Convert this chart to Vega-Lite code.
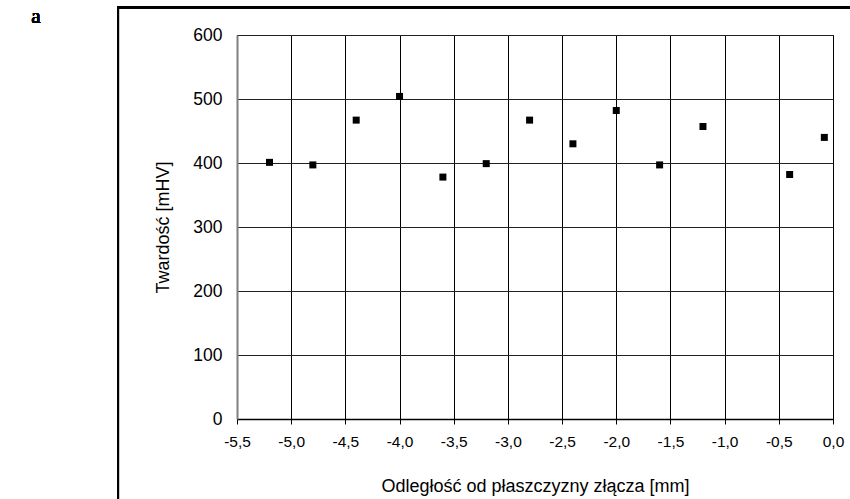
{
  "$schema": "https://vega.github.io/schema/vega-lite/v6.json",
  "width": 596,
  "height": 384,
  "autosize": {"type": "none"},
  "padding": {"left": 237, "top": 35, "right": 17, "bottom": 80},
  "background": "white",
  "config": {
    "locale": {"number": {"decimal": ",", "thousands": " ", "grouping": [3], "currency": ["", ""], "minus": "-"}},
    "view": {"stroke": "#000000", "strokeWidth": 1},
    "font": "Liberation Sans"
  },
  "data": {
    "values": [
      {"x": -5.2, "y": 401},
      {"x": -4.8, "y": 397},
      {"x": -4.4, "y": 467},
      {"x": -4.0, "y": 504},
      {"x": -3.6, "y": 378},
      {"x": -3.2, "y": 399},
      {"x": -2.8, "y": 467},
      {"x": -2.4, "y": 430},
      {"x": -2.0, "y": 482},
      {"x": -1.6, "y": 397},
      {"x": -1.2, "y": 457},
      {"x": -0.4, "y": 382},
      {"x": -0.08, "y": 440}
    ]
  },
  "layer": [
    {
      "mark": {"type": "rect", "fill": null, "stroke": "#000000", "strokeWidth": 2, "clip": false},
      "encoding": {
        "x": {"datum": -6.598, "type": "quantitative"},
        "x2": {"datum": 0.35},
        "y": {"datum": 643.3, "type": "quantitative"},
        "y2": {"datum": -160}
      }
    },
    {
      "mark": {"type": "text", "font": "Liberation Serif", "fontSize": 21, "fontWeight": "normal", "align": "center", "baseline": "alphabetic", "clip": false, "color": "#000000"},
      "encoding": {
        "x": {"datum": -7.355, "type": "quantitative"},
        "y": {"datum": 619, "type": "quantitative"},
        "text": {"value": "a"}
      }
    },
    {
      "mark": {"type": "square", "size": 49, "color": "#000000", "opacity": 1, "filled": true},
      "encoding": {
        "x": {
          "field": "x",
          "type": "quantitative",
          "scale": {"domain": [-5.5, 0], "nice": false, "zero": false},
          "axis": {
            "values": [-5.5, -5, -4.5, -4, -3.5, -3, -2.5, -2, -1.5, -1, -0.5, 0],
            "format": ".1f",
            "title": "Odległość od płaszczyzny złącza [mm]",
            "grid": true,
            "gridColor": "#000000",
            "gridOpacity": 1,
            "gridWidth": 1,
            "domainColor": "#000000",
            "domainWidth": 1.5,
            "ticks": true,
            "tickSize": 5,
            "tickColor": "#000000",
            "labelFontSize": 15.5,
            "labelColor": "#000000",
            "labelPadding": 10,
            "labelFlush": false,
            "labelOverlap": false,
            "titleFontSize": 18,
            "titleFontWeight": "normal",
            "titleColor": "#000000",
            "titlePadding": 28
          }
        },
        "y": {
          "field": "y",
          "type": "quantitative",
          "scale": {"domain": [0, 600], "nice": false},
          "axis": {
            "values": [0, 100, 200, 300, 400, 500, 600],
            "title": "Twardość [mHV]",
            "grid": true,
            "gridColor": "#222222",
            "gridOpacity": 1,
            "gridWidth": 1,
            "domainColor": "#808080",
            "domainWidth": 2,
            "ticks": false,
            "labelFontSize": 17.5,
            "labelColor": "#000000",
            "labelPadding": 15,
            "labelFlush": false,
            "labelOverlap": false,
            "titleFontSize": 18,
            "titleFontWeight": "normal",
            "titleColor": "#000000",
            "titlePadding": 20
          }
        }
      }
    }
  ]
}
